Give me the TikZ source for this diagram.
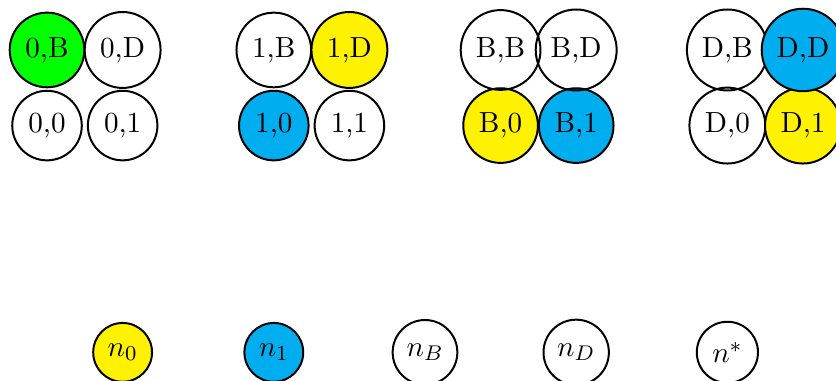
\documentclass[tikz,border=0pt]{standalone}
\usepackage{xcolor}
\definecolor{stgreen}{RGB}{0,255,0}
\definecolor{styellow}{RGB}{255,242,0}
\definecolor{stcyan}{RGB}{0,174,239}
\begin{document}
\begin{tikzpicture}[
  font=\fontsize{10.95}{13.6}\selectfont,
  st/.style={circle, draw, line width=0.75pt},
  sg/.style={st, fill=stgreen},
  sy/.style={st, fill=styellow},
  sc/.style={st, fill=stcyan}
]
\useasboundingbox (-0.622,-4.378) rectangle (10.437,0.661);
\begin{scope}
\clip (-0.622,-4.378) rectangle (10.437,0.661);
% lower row of each pair first, so upper circles lie on top
\node[st] (z0) at (0,-1) {0,0};
\node[st] (z1) at (1,-1) {0,1};
\node[sg] (zB) at (0,0) {0,B};
\node[st] (zD) at (1,0) {0,D};

\node[sc] (o0) at (3,-1) {1,0};
\node[st] (o1) at (4,-1) {1,1};
\node[st] (oB) at (3,0) {1,B};
\node[sy] (oD) at (4,0) {1,D};

\node[sy] (b0) at (6,-1) {B,0};
\node[sc] (b1) at (7,-1) {B,1};
\node[st] (bB) at (6,0) {B,B};
\node[st] (bD) at (7,0) {B,D};

\node[st] (d0) at (9,-1) {D,0};
\node[sy] (d1) at (10,-1) {D,1};
\node[st] (dB) at (9,0) {D,B};
\node[sc] (dD) at (10,0) {D,D};

% legend row
\node[sy] (n0) at (1,-4) {$n_0$};
\node[sc] (n1) at (3,-4) {$n_1$};
\node[st] (nB) at (5,-4) {$n_B$};
\node[st] (nD) at (7,-4) {$n_D$};
\node[st] (ns) at (9,-4) {$n^*$};
\end{scope}
\end{tikzpicture}
\end{document}
